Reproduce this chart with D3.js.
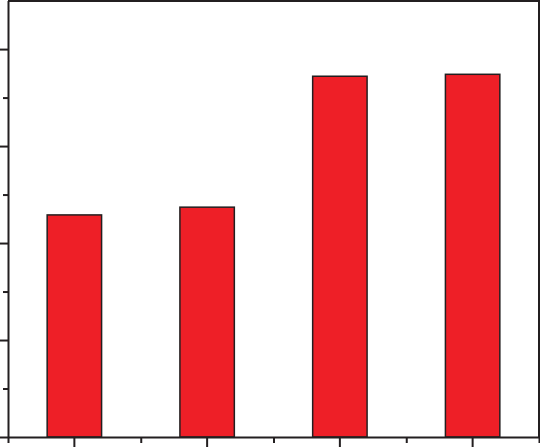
<!DOCTYPE html>
<meta charset="utf-8">
<style>
body { margin: 0; background: white; }
.axis path, .axis line { stroke: #231f20; stroke-width: 2; }
.axis text { display: none; }
</style>
<script src="https://cdn.jsdelivr.net/npm/d3@7"></script>
<body>
<script>
const categories = ['A', 'B', 'C', 'D'];
const values = [2.29, 2.37, 3.72, 3.74];
const majorTicks = [0, 1, 2, 3, 4];
const minorTicks = [0.5, 1.5, 2.5, 3.5];

const W = 540, H = 447;
const x0 = 8, x1 = 539, y0 = 437, y1 = 0.6;

const svg = d3.select('body')
  .append('svg')
    .attr('width', W)
    .attr('height', H);

// full band for tick positions, padded band for bars
const xBand = d3.scaleBand()
  .domain(categories)
  .range([x0, x1])
  .padding(0);

const xBar = d3.scaleBand()
  .domain(categories)
  .range([x0, x1])
  .paddingInner(0.59)
  .paddingOuter(0.295);

const yScale = d3.scaleLinear()
  .domain([0, 4.5])
  .range([y0, y1]);

// frame top and right
svg.append('line')
  .attr('x1', x0).attr('x2', x1 + 1)
  .attr('y1', 1).attr('y2', 1)
  .attr('stroke', '#231f20').attr('stroke-width', 2);
svg.append('line')
  .attr('x1', x1).attr('x2', x1)
  .attr('y1', 0).attr('y2', y0)
  .attr('stroke', '#231f20').attr('stroke-width', 2);

// bars
svg.selectAll('rect.bar')
  .data(values)
  .enter()
  .append('rect')
    .attr('class', 'bar')
    .attr('x', (d, i) => xBar(categories[i]))
    .attr('width', xBar.bandwidth())
    .attr('y', d => yScale(d))
    .attr('height', d => y0 - yScale(d))
    .style('fill', '#ee1f27')
    .style('stroke', '#231f20')
    .style('stroke-width', 1.5);

// left axis, major + minor
svg.append('g')
  .attr('class', 'axis')
  .attr('transform', `translate(${x0}, 0)`)
  .call(d3.axisLeft(yScale).tickValues(majorTicks).tickSize(8).tickSizeOuter(0).tickFormat(''));

svg.append('g')
  .attr('class', 'axis')
  .attr('transform', `translate(${x0}, 0)`)
  .call(d3.axisLeft(yScale).tickValues(minorTicks).tickSize(5).tickSizeOuter(0).tickFormat(''))
  .select('.domain').remove();

// bottom axis, major at centers, minor at band edges
const edges = categories.map(c => xBand(c)).concat([x1]);

svg.append('g')
  .attr('class', 'axis')
  .attr('transform', `translate(0, ${y0})`)
  .call(d3.axisBottom(xBand).tickSize(10).tickSizeOuter(0).tickFormat(''));

svg.append('g')
  .attr('class', 'axis')
  .attr('transform', `translate(0, ${y0})`)
  .call(d3.axisBottom(d3.scaleLinear().domain([x0, x1]).range([x0, x1]))
    .tickValues(edges).tickSize(6).tickSizeOuter(0).tickFormat(''))
  .select('.domain').remove();
</script>
</body>
</html>
